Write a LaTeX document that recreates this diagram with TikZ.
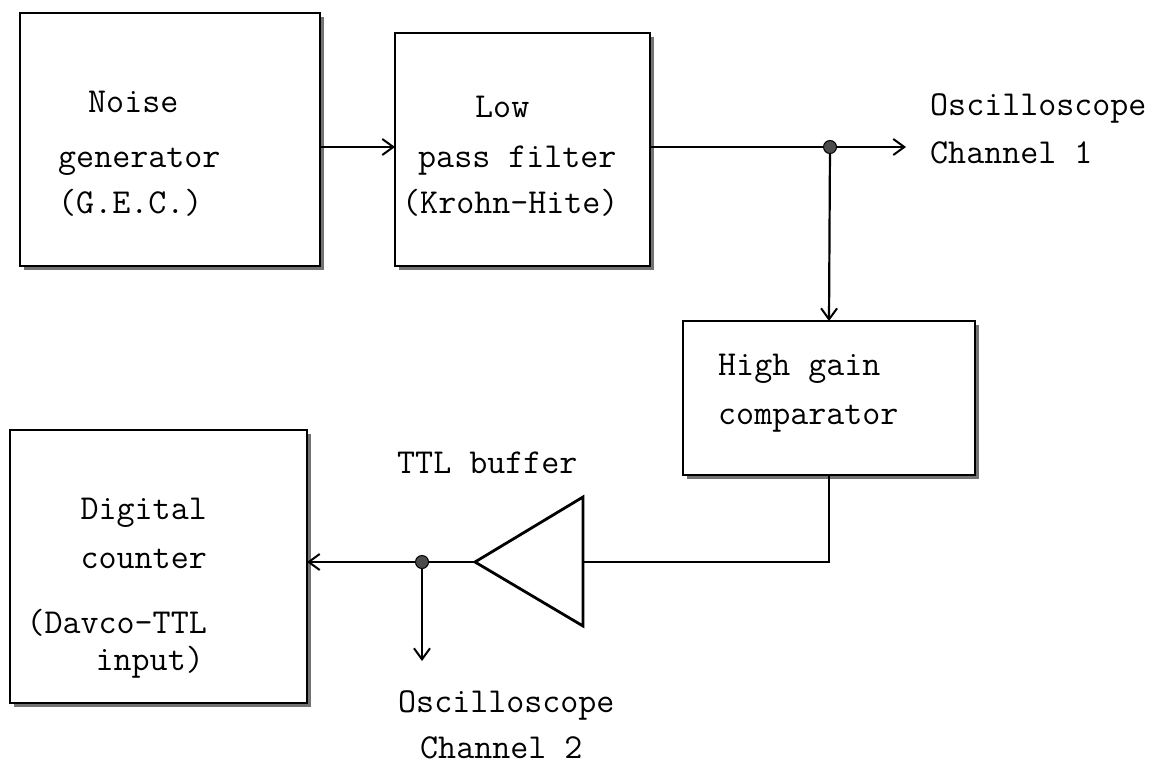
\documentclass[tikz,border=0pt]{standalone}
\usepackage{fontspec}
\usetikzlibrary{arrows.meta,shadows,calc}
\begin{document}
\begin{tikzpicture}[x=1pt,y=-1pt,
  blk/.style={draw, line width=2.6pt, fill=white, inner sep=0pt, outer sep=0pt,
    drop shadow={shadow xshift=3.5pt, shadow yshift=-3.5pt, fill=black!55, opacity=1}},
  txt/.style={inner sep=0pt, font=\ttfamily\fontsize{35}{35}\selectfont},
  wire/.style={line width=2.2pt},
  arr/.style={wire, -{Straight Barb[length=11pt,width=16pt,line width=2pt]}},
  jdot/.style={circle, fill=black!70, draw=black, line width=1pt, minimum size=13pt, inner sep=0pt}]
\useasboundingbox (0,0) rectangle (1161,766);

% blocks
\node[blk, minimum width=300pt, minimum height=253pt] (ng) at (170,139.5) {};
\node[blk, minimum width=255pt, minimum height=233pt] (lpf) at (522.5,149.5) {};
\node[blk, minimum width=292pt, minimum height=154pt] (cmp) at (829,398) {};
\node[blk, minimum width=297pt, minimum height=273pt] (dc) at (158.5,566.5) {};

% texts
\node[txt, anchor=base west] (t1) at (88,112) {Noise};
\node[txt, anchor=base west] (t2) at (58,167) {generator};
\node[txt, anchor=base west] (t3) at (58,213) {(G.E.C.)};
\node[txt, anchor=base west] (t4) at (475,117) {Low};
\node[txt, anchor=base west] (t5) at (418,167) {pass filter};
\node[txt, anchor=base west] (t6) at (402,213) {(Krohn-Hite)};
\node[txt, anchor=base west] (t7) at (930,115) {Oscilloscope};
\node[txt, anchor=base west] (t8) at (930,163) {Channel 1};
\node[txt, anchor=base west] (t9) at (718,375) {High gain};
\node[txt, anchor=base west] (t10) at (718,424) {comparator};
\node[txt, anchor=base east] (t11) at (207,519) {Digital};
\node[txt, anchor=base east] (t12) at (207,568) {counter};
\node[txt, anchor=base east] (t13) at (207,633) {(Davco-TTL};
\node[txt, anchor=base east] (t14) at (204,670) {input)};
\node[txt, anchor=base west] (t15) at (397,473) {TTL buffer};
\node[txt, anchor=base west] (t16) at (398,712) {Oscilloscope};
\node[txt, anchor=base west] (t17) at (420,758) {Channel 2};

% buffer triangle
\coordinate (bt) at (475,562);
\coordinate (br) at (583,562);
\draw[line width=2.8pt, line join=miter] (bt) -- (583,497) -- (583,626) -- cycle;

% junctions
\node[jdot] (d1) at (830,147) {};
\node[jdot] (d2) at (422,562) {};
\coordinate (o1) at (906,147);
\coordinate (o2) at (422,661);

% connectors
\draw[arr] (ng.east |- d1) -- (lpf.west |- d1);
\draw[wire] (lpf.east |- d1) -- (d1);
\draw[arr] (d1) -- (o1);
\draw[arr] (d1) -- (cmp.north);
\draw[wire] (cmp.south) |- (br);
\draw[wire] (bt) -- (d2);
\draw[arr] (d2) -- (dc.east |- d2);
\draw[arr] (d2) -- (o2);
\end{tikzpicture}
\end{document}
